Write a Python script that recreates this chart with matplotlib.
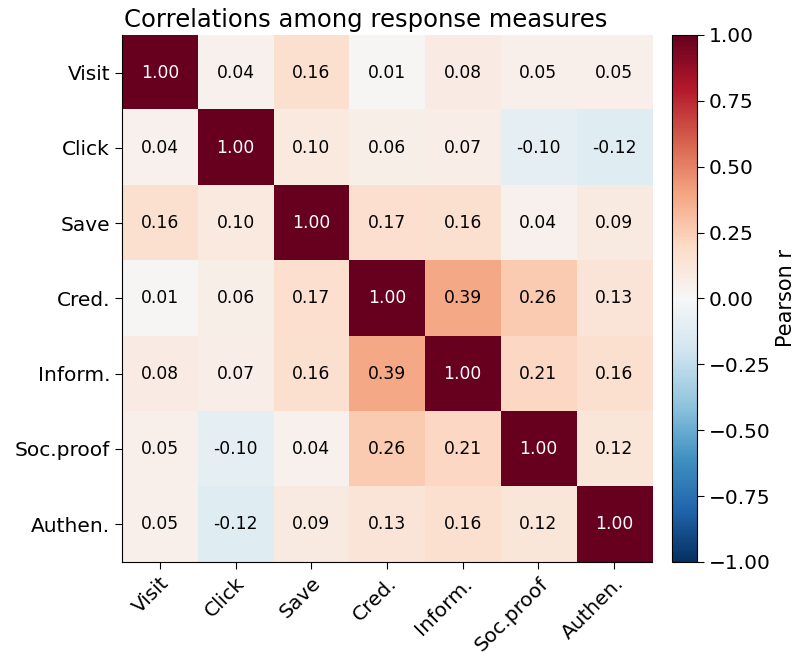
import numpy as np
import matplotlib.pyplot as plt

labels = ["Visit", "Click", "Save", "Cred.", "Inform.", "Soc.proof", "Authen."]
corr = np.array([
    [1.00, 0.04, 0.16, 0.01, 0.08, 0.05, 0.05],
    [0.04, 1.00, 0.10, 0.06, 0.07, -0.10, -0.12],
    [0.16, 0.10, 1.00, 0.17, 0.16, 0.04, 0.09],
    [0.01, 0.06, 0.17, 1.00, 0.39, 0.26, 0.13],
    [0.08, 0.07, 0.16, 0.39, 1.00, 0.21, 0.16],
    [0.05, -0.10, 0.04, 0.26, 0.21, 1.00, 0.12],
    [0.05, -0.12, 0.09, 0.13, 0.16, 0.12, 1.00],
])
cbar_ticks = [-1.0, -0.75, -0.5, -0.25, 0.0, 0.25, 0.5, 0.75, 1.0]

fig = plt.figure(figsize=(8.02, 6.58), dpi=100)
ax = fig.add_axes([0.152, 0.146, 0.661, 0.801])
cax = fig.add_axes([0.838, 0.146, 0.031, 0.801])

im = ax.imshow(corr, cmap="RdBu_r", vmin=-1, vmax=1, aspect="auto")

# annotate cells
n = len(labels)
for i in range(n):
    for j in range(n):
        v = corr[i, j]
        ax.text(j, i, f"{v:.2f}", ha="center", va="center", fontsize=12.3,
                color="white" if abs(v) > 0.5 else "black")

ax.set_xticks(range(n))
ax.set_yticks(range(n))
ax.set_xticklabels(labels, rotation=45, ha="right", rotation_mode="anchor", fontsize=14.5)
ax.set_yticklabels(labels, fontsize=14.5)
ax.tick_params(length=5)
ax.spines["top"].set_visible(False)
ax.spines["right"].set_visible(False)
ax.set_title("Correlations among response measures", fontsize=17.5, pad=6, x=0.46)

cb = fig.colorbar(im, cax=cax, ticks=cbar_ticks)
cb.ax.tick_params(labelsize=14.5, length=5)
cb.ax.set_yticklabels([f"{t:.2f}".replace("-", "\u2212") for t in cbar_ticks])
cb.set_label("Pearson r", fontsize=15)

plt.savefig("out.png", dpi=100)
